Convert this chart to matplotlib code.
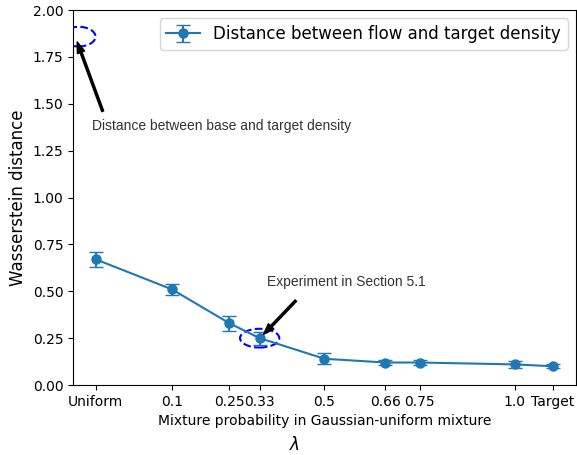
import numpy as np
import matplotlib.pyplot as plt
from matplotlib.patches import Ellipse

# Mixture probabilities (Uniform base at -0.1, Target at 1.1)
lam = [-0.1, 0.1, 0.25, 0.33, 0.5, 0.66, 0.75, 1.0, 1.1]
tick_labels = ['Uniform', '0.1', '0.25', '0.33', '0.5', '0.66', '0.75', '1.0', 'Target']

# Wasserstein distance between flow and target, mean and std over runs
w_mean = [0.67, 0.51, 0.33, 0.25, 0.14, 0.12, 0.12, 0.11, 0.10]
w_std = [0.04, 0.03, 0.04, 0.035, 0.03, 0.015, 0.015, 0.02, 0.01]

# Distance between base and target density
base_x = -0.145
base_dist = 1.858

fig = plt.figure(figsize=(5.77, 4.55), dpi=100)
ax = fig.add_axes([0.1265, 0.1538, 0.8715, 0.8242])

ax.errorbar(lam, w_mean, yerr=w_std, fmt='o-', color='tab:blue', capsize=5,
            markersize=6.5, label='Distance between flow and target density')

ax.set_xticks(lam)
ax.set_xticklabels(tick_labels)
ax.set_ylim(0, 2.0)
ax.set_yticks(np.arange(0, 2.01, 0.25))
ax.set_xlabel('Mixture probability in Gaussian-uniform mixture')
ax.set_ylabel('Wasserstein distance', fontsize=12)
ax.legend(loc='upper right', fontsize=12)

# highlight the base density distance and the Section 5.1 setting
ax.add_patch(Ellipse((base_x, base_dist), 0.088, 0.105, fill=False,
                     edgecolor='blue', linestyle='--', linewidth=1.5))
ax.add_patch(Ellipse((lam[3], w_mean[3]), 0.103, 0.1, fill=False,
                     edgecolor='blue', linestyle='--', linewidth=1.5))

arrow = dict(facecolor='black', edgecolor='black', width=1.5, headwidth=5.5,
             headlength=8, shrink=0)
ax.annotate('', xy=(-0.149, 1.83), xytext=(-0.082, 1.46), arrowprops=arrow)
ax.text(-0.11, 1.381, 'Distance between base and target density', fontsize=10,
        family='Liberation Sans', color='#333333', va='center', ha='left')
ax.annotate('', xy=(0.340, 0.27), xytext=(0.425, 0.45), arrowprops=arrow)
ax.text(0.35, 0.55, 'Experiment in Section 5.1', fontsize=10,
        family='Liberation Sans', color='#333333', va='center', ha='left')

fig.text(0.511, 0.022, r'$\lambda$', fontsize=12, ha='center', va='center')

fig.savefig('out.png', dpi=100)
